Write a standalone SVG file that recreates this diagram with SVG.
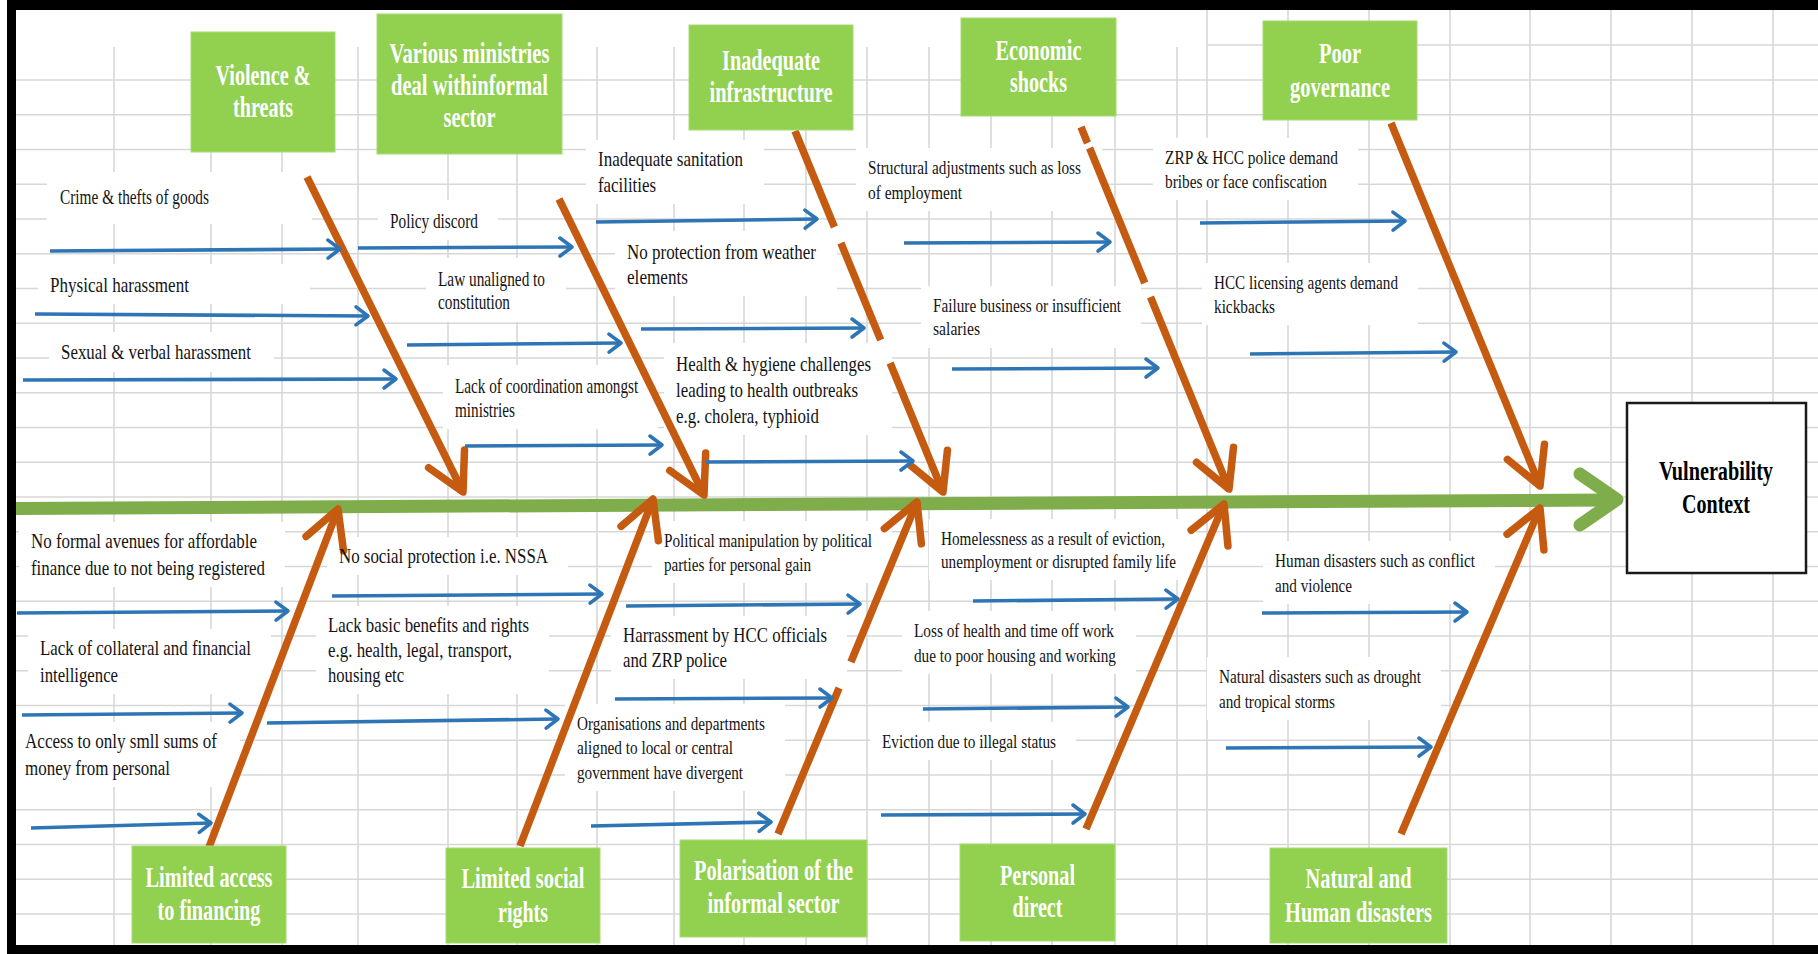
<svg xmlns="http://www.w3.org/2000/svg" width="1818" height="954" viewBox="0 0 1818 954">
  <defs>
    <style>
      .grid { fill: none; stroke: #d7d7d7; stroke-width: 1.6; }
      .tbox { fill: #ffffff; stroke: none; }
      .cause { fill: #92d050; stroke: #a6dc72; stroke-width: 1; }
      .lbl { font-family: "Liberation Serif", "Times New Roman", serif; font-weight: bold; font-size: 29px; fill: #ffffff; text-anchor: middle; }
      .t21 { font-family: "Liberation Serif", "Times New Roman", serif; font-size: 21px; fill: #141414; }
      .t20 { font-family: "Liberation Serif", "Times New Roman", serif; font-size: 20px; fill: #141414; }
      .t19 { font-family: "Liberation Serif", "Times New Roman", serif; font-size: 19px; fill: #141414; }
      .vc { font-family: "Liberation Serif", "Times New Roman", serif; font-weight: bold; font-size: 27px; fill: #000000; text-anchor: middle; }
      .bone { fill: none; stroke: #c55a11; stroke-width: 7.5; marker-end: url(#headOrange); }
      .sub { fill: none; stroke: #2e75b6; stroke-width: 3.6; marker-end: url(#headBlue); }
      .spine { fill: none; stroke: #80ad4c; stroke-width: 13; }
    </style>
    <marker id="headOrange" markerUnits="userSpaceOnUse" viewBox="-50 -30 60 60" markerWidth="60" markerHeight="60" refX="0" refY="0" orient="auto" overflow="visible">
      <path d="M-37,-20 L0,0 L-37,20" fill="none" stroke="#c55a11" stroke-width="7.5" stroke-linecap="round" stroke-linejoin="round"/>
    </marker>
    <marker id="headBlue" markerUnits="userSpaceOnUse" viewBox="-20 -15 30 30" markerWidth="30" markerHeight="30" refX="0" refY="0" orient="auto" overflow="visible">
      <path d="M-12,-9 L0,0 L-12,9" fill="none" stroke="#2e75b6" stroke-width="3.6" stroke-linecap="round" stroke-linejoin="round"/>
    </marker>
  </defs>

  <!-- sheet background and cell grid -->
  <rect x="0" y="0" width="1818" height="954" fill="#ffffff"/>
  <g id="grid">
    <path class="grid" d="M16,80H1818 M16,114.8H1818 M16,149.5H1818 M16,184.3H1818 M16,219H1818 M16,253.8H1818 M16,288.5H1818 M16,323.3H1818 M16,358H1818 M16,392.8H1818 M16,427.5H1818 M16,462.3H1818 M16,497H1818 M16,531.8H1818 M16,566.5H1818 M16,601.3H1818 M16,636H1818 M16,670.8H1818 M16,705.5H1818 M16,740.3H1818 M16,775H1818 M16,809.8H1818 M16,844.5H1818 M16,879.3H1818 M16,914H1818 M1207,45H1818"/>
    <path class="grid" d="M114,47V945 M211,47V945 M282,47V945 M358,47V945 M448,47V945 M517,47V945 M597,47V945 M674,47V945 M744,47V945 M806,47V945 M867,47V945 M929,47V945 M991,47V945 M1052,47V945 M1115,47V945 M1177,47V945 M1207,10V945 M1288,10V945 M1369,10V945 M1450,10V945 M1530,10V945 M1611,10V945 M1692,10V945 M1773,10V945"/>
  </g>

  <!-- white backgrounds of the sub-cause text boxes -->
  <g id="textbox-backgrounds">
    <rect class="tbox" x="47" y="172" width="265" height="52"/>
    <rect class="tbox" x="38" y="264" width="272" height="40"/>
    <rect class="tbox" x="49" y="332" width="225" height="40"/>
    <rect class="tbox" x="378" y="200" width="120" height="40"/>
    <rect class="tbox" x="426" y="258" width="140" height="64"/>
    <rect class="tbox" x="443" y="365" width="215" height="64"/>
    <rect class="tbox" x="586" y="140" width="178" height="64"/>
    <rect class="tbox" x="615" y="231" width="222" height="65"/>
    <rect class="tbox" x="664" y="343" width="228" height="92"/>
    <rect class="tbox" x="856" y="148" width="246" height="63"/>
    <rect class="tbox" x="921" y="286" width="220" height="62"/>
    <rect class="tbox" x="1153" y="138" width="205" height="62"/>
    <rect class="tbox" x="1202" y="263" width="216" height="62"/>
    <rect class="tbox" x="19" y="522" width="266" height="65"/>
    <rect class="tbox" x="28" y="629" width="243" height="65"/>
    <rect class="tbox" x="16" y="722" width="224" height="65"/>
    <rect class="tbox" x="327" y="537" width="241" height="38"/>
    <rect class="tbox" x="316" y="606" width="233" height="88"/>
    <rect class="tbox" x="652" y="521" width="240" height="62"/>
    <rect class="tbox" x="611" y="616" width="236" height="63"/>
    <rect class="tbox" x="565" y="704" width="220" height="87"/>
    <rect class="tbox" x="929" y="519" width="267" height="61"/>
    <rect class="tbox" x="902" y="611" width="234" height="63"/>
    <rect class="tbox" x="870" y="722" width="206" height="38"/>
    <rect class="tbox" x="1263" y="541" width="232" height="63"/>
    <rect class="tbox" x="1207" y="657" width="234" height="63"/>
  </g>

  <!-- spine, bones and sub-cause arrows -->
  <g id="connectors">
    <path class="spine" d="M16,508.5 L1612,500"/>
    <path d="M1580,474 L1617,499.5 L1580,525" fill="none" stroke="#80ad4c" stroke-width="13" stroke-linecap="round" stroke-linejoin="round"/>

    <path class="bone" d="M307,177 L463,492"/>
    <path class="bone" d="M559,199 L704,495"/>
    <path class="bone" d="M795,131 L834.4,227 M840.9,243 L880.7,340 M890.1,363 L943,492"/>
    <path class="bone" d="M1081,127 L1087.5,143 M1089.6,148 L1144.8,283 M1150.5,297 L1229,489"/>
    <path class="bone" d="M1391,123 L1540,486"/>
    <path class="bone" d="M206,855 L338,509"/>
    <path class="bone" d="M520,846 L653,499"/>
    <path class="bone" d="M778,834 L839.1,688 M850.9,662 L917,502"/>
    <path class="bone" d="M1086,829 L1224,504"/>
    <path class="bone" d="M1401,834 L1540,508"/>

    <path class="sub" d="M50,251 L340,249"/>
    <path class="sub" d="M35,314 L368,316"/>
    <path class="sub" d="M23,380 L396,379"/>
    <path class="sub" d="M358,248 L572,247"/>
    <path class="sub" d="M407,345 L621,343"/>
    <path class="sub" d="M465,446 L662,445"/>
    <path class="sub" d="M596,222 L817,219"/>
    <path class="sub" d="M641,329 L864,328"/>
    <path class="sub" d="M706,462 L913,461"/>
    <path class="sub" d="M904,243 L1110,242"/>
    <path class="sub" d="M952,369 L1158,368"/>
    <path class="sub" d="M1200,223 L1405,221"/>
    <path class="sub" d="M1250,354 L1456,352"/>
    <path class="sub" d="M17,613 L288,611"/>
    <path class="sub" d="M22,715 L242,713"/>
    <path class="sub" d="M31,828 L211,823"/>
    <path class="sub" d="M332,596 L602,594"/>
    <path class="sub" d="M267,723 L558,719"/>
    <path class="sub" d="M626,606 L860,604"/>
    <path class="sub" d="M615,699 L832,698"/>
    <path class="sub" d="M591,826 L771,822"/>
    <path class="sub" d="M973,601 L1178,599"/>
    <path class="sub" d="M923,709 L1128,707"/>
    <path class="sub" d="M881,815 L1085,814"/>
    <path class="sub" d="M1262,613 L1467,612"/>
    <path class="sub" d="M1226,748 L1431,747"/>
  </g>

  <!-- main cause boxes -->
  <g id="cause-violence">
    <rect class="cause" x="191" y="32" width="144" height="120"/>
    <text class="lbl" x="263" y="85" textLength="95" lengthAdjust="spacingAndGlyphs">Violence &amp;</text>
    <text class="lbl" x="263" y="117" textLength="60" lengthAdjust="spacingAndGlyphs">threats</text>
  </g>
  <g id="cause-ministries">
    <rect class="cause" x="377" y="14" width="185" height="140"/>
    <text class="lbl" x="469.5" y="63" textLength="160" lengthAdjust="spacingAndGlyphs">Various ministries</text>
    <text class="lbl" x="469.5" y="95" textLength="157" lengthAdjust="spacingAndGlyphs">deal withinformal</text>
    <text class="lbl" x="469.5" y="127" textLength="52" lengthAdjust="spacingAndGlyphs">sector</text>
  </g>
  <g id="cause-infrastructure">
    <rect class="cause" x="689" y="25" width="164" height="105"/>
    <text class="lbl" x="771" y="70" textLength="98" lengthAdjust="spacingAndGlyphs">Inadequate</text>
    <text class="lbl" x="771" y="102" textLength="123" lengthAdjust="spacingAndGlyphs">infrastructure</text>
  </g>
  <g id="cause-economic">
    <rect class="cause" x="961" y="18" width="155" height="98"/>
    <text class="lbl" x="1038.5" y="60" textLength="86" lengthAdjust="spacingAndGlyphs">Economic</text>
    <text class="lbl" x="1038.5" y="92" textLength="57" lengthAdjust="spacingAndGlyphs">shocks</text>
  </g>
  <g id="cause-governance">
    <rect class="cause" x="1263" y="21" width="154" height="99"/>
    <text class="lbl" x="1340" y="63" textLength="42" lengthAdjust="spacingAndGlyphs">Poor</text>
    <text class="lbl" x="1340" y="97" textLength="100" lengthAdjust="spacingAndGlyphs">governance</text>
  </g>
  <g id="cause-financing">
    <rect class="cause" x="132" y="846" width="154" height="97"/>
    <text class="lbl" x="209" y="887" textLength="127" lengthAdjust="spacingAndGlyphs">Limited access</text>
    <text class="lbl" x="209" y="920" textLength="103" lengthAdjust="spacingAndGlyphs">to financing</text>
  </g>
  <g id="cause-social-rights">
    <rect class="cause" x="446" y="848" width="154" height="95"/>
    <text class="lbl" x="523" y="888" textLength="123" lengthAdjust="spacingAndGlyphs">Limited social</text>
    <text class="lbl" x="523" y="922" textLength="50" lengthAdjust="spacingAndGlyphs">rights</text>
  </g>
  <g id="cause-polarisation">
    <rect class="cause" x="680" y="840" width="187" height="97"/>
    <text class="lbl" x="773.5" y="880" textLength="159" lengthAdjust="spacingAndGlyphs">Polarisation of the</text>
    <text class="lbl" x="773.5" y="913" textLength="132" lengthAdjust="spacingAndGlyphs">informal sector</text>
  </g>
  <g id="cause-personal">
    <rect class="cause" x="960" y="844" width="155" height="97"/>
    <text class="lbl" x="1037.5" y="885" textLength="75" lengthAdjust="spacingAndGlyphs">Personal</text>
    <text class="lbl" x="1037.5" y="917" textLength="50" lengthAdjust="spacingAndGlyphs">direct</text>
  </g>
  <g id="cause-disasters">
    <rect class="cause" x="1270" y="848" width="177" height="95"/>
    <text class="lbl" x="1358.5" y="888" textLength="106" lengthAdjust="spacingAndGlyphs">Natural and</text>
    <text class="lbl" x="1358.5" y="922" textLength="147" lengthAdjust="spacingAndGlyphs">Human disasters</text>
  </g>

  <!-- effect box -->
  <g id="effect">
    <rect x="1627" y="403" width="179" height="170" fill="#ffffff" stroke="#1a1a1a" stroke-width="2.5"/>
    <text class="vc" x="1716" y="480" textLength="114" lengthAdjust="spacingAndGlyphs">Vulnerability</text>
    <text class="vc" x="1716" y="513" textLength="68" lengthAdjust="spacingAndGlyphs">Context</text>
  </g>

  <!-- sub-cause labels -->
  <g id="sub-crime"><text class="t21" x="60" y="204" textLength="149" lengthAdjust="spacingAndGlyphs">Crime &amp; thefts of goods</text></g>
  <g id="sub-physical"><text class="t21" x="50" y="292" textLength="139" lengthAdjust="spacingAndGlyphs">Physical harassment</text></g>
  <g id="sub-sexual"><text class="t21" x="61" y="359" textLength="190" lengthAdjust="spacingAndGlyphs">Sexual &amp; verbal harassment</text></g>
  <g id="sub-policy"><text class="t21" x="390" y="228" textLength="88" lengthAdjust="spacingAndGlyphs">Policy discord</text></g>
  <g id="sub-law">
    <text class="t21" x="438" y="286" textLength="107" lengthAdjust="spacingAndGlyphs">Law unaligned to</text>
    <text class="t21" x="438" y="309" textLength="72" lengthAdjust="spacingAndGlyphs">constitution</text>
  </g>
  <g id="sub-coordination">
    <text class="t21" transform="translate(455,393) scale(0.71,1)" x="0" y="0" textLength="258" lengthAdjust="spacingAndGlyphs">Lack of coordination amongst</text>
    <text class="t21" x="455" y="417" textLength="60" lengthAdjust="spacingAndGlyphs">ministries</text>
  </g>
  <g id="sub-sanitation">
    <text class="t21" x="598" y="166" textLength="145" lengthAdjust="spacingAndGlyphs">Inadequate sanitation</text>
    <text class="t21" x="598" y="192" textLength="58" lengthAdjust="spacingAndGlyphs">facilities</text>
  </g>
  <g id="sub-weather">
    <text class="t21" x="627" y="259" textLength="189" lengthAdjust="spacingAndGlyphs">No protection from weather</text>
    <text class="t21" x="627" y="284" textLength="61" lengthAdjust="spacingAndGlyphs">elements</text>
  </g>
  <g id="sub-health">
    <text class="t21" x="676" y="371" textLength="195" lengthAdjust="spacingAndGlyphs">Health &amp; hygiene challenges</text>
    <text class="t21" x="676" y="397" textLength="182" lengthAdjust="spacingAndGlyphs">leading to health outbreaks</text>
    <text class="t21" x="676" y="423" textLength="143" lengthAdjust="spacingAndGlyphs">e.g. cholera, typhioid</text>
  </g>
  <g id="sub-structural">
    <text class="t19" x="868" y="174" textLength="213" lengthAdjust="spacingAndGlyphs">Structural adjustments such as loss</text>
    <text class="t19" x="868" y="199" textLength="94" lengthAdjust="spacingAndGlyphs">of employment</text>
  </g>
  <g id="sub-failure">
    <text class="t19" x="933" y="312" textLength="188" lengthAdjust="spacingAndGlyphs">Failure business or insufficient</text>
    <text class="t19" x="933" y="335" textLength="47" lengthAdjust="spacingAndGlyphs">salaries</text>
  </g>
  <g id="sub-bribes">
    <text class="t19" x="1165" y="164" textLength="173" lengthAdjust="spacingAndGlyphs">ZRP &amp; HCC police demand</text>
    <text class="t19" x="1165" y="188" textLength="162" lengthAdjust="spacingAndGlyphs">bribes or face confiscation</text>
  </g>
  <g id="sub-kickbacks">
    <text class="t19" x="1214" y="289" textLength="184" lengthAdjust="spacingAndGlyphs">HCC licensing agents demand</text>
    <text class="t19" x="1214" y="313" textLength="61" lengthAdjust="spacingAndGlyphs">kickbacks</text>
  </g>
  <g id="sub-avenues">
    <text class="t21" x="31" y="548" textLength="226" lengthAdjust="spacingAndGlyphs">No formal avenues for affordable</text>
    <text class="t21" x="31" y="575" textLength="234" lengthAdjust="spacingAndGlyphs">finance due to not being registered</text>
  </g>
  <g id="sub-collateral">
    <text class="t21" x="40" y="655" textLength="211" lengthAdjust="spacingAndGlyphs">Lack of collateral and financial</text>
    <text class="t21" x="40" y="682" textLength="78" lengthAdjust="spacingAndGlyphs">intelligence</text>
  </g>
  <g id="sub-small-sums">
    <text class="t20" x="25" y="748" textLength="192" lengthAdjust="spacingAndGlyphs">Access to only smll sums of</text>
    <text class="t20" x="25" y="775" textLength="145" lengthAdjust="spacingAndGlyphs">money from personal</text>
  </g>
  <g id="sub-nssa"><text class="t21" x="339" y="563" textLength="209" lengthAdjust="spacingAndGlyphs">No social protection i.e. NSSA</text></g>
  <g id="sub-benefits">
    <text class="t21" x="328" y="632" textLength="201" lengthAdjust="spacingAndGlyphs">Lack basic benefits and rights</text>
    <text class="t21" x="328" y="657" textLength="184" lengthAdjust="spacingAndGlyphs">e.g. health, legal, transport,</text>
    <text class="t21" x="328" y="682" textLength="76" lengthAdjust="spacingAndGlyphs">housing etc</text>
  </g>
  <g id="sub-political">
    <text class="t19" x="664" y="547" textLength="208" lengthAdjust="spacingAndGlyphs">Political manipulation by political</text>
    <text class="t19" x="664" y="571" textLength="147" lengthAdjust="spacingAndGlyphs">parties for personal gain</text>
  </g>
  <g id="sub-harassment-hcc">
    <text class="t21" x="623" y="642" textLength="204" lengthAdjust="spacingAndGlyphs">Harrassment by HCC officials</text>
    <text class="t21" x="623" y="667" textLength="104" lengthAdjust="spacingAndGlyphs">and ZRP police</text>
  </g>
  <g id="sub-organisations">
    <text class="t19" x="577" y="730" textLength="188" lengthAdjust="spacingAndGlyphs">Organisations and departments</text>
    <text class="t19" x="577" y="754" textLength="156" lengthAdjust="spacingAndGlyphs">aligned to local or central</text>
    <text class="t19" x="577" y="779" textLength="166" lengthAdjust="spacingAndGlyphs">government have divergent</text>
  </g>
  <g id="sub-homelessness">
    <text class="t19" x="941" y="545" textLength="224" lengthAdjust="spacingAndGlyphs">Homelessness as a result of eviction,</text>
    <text class="t19" x="941" y="568" textLength="235" lengthAdjust="spacingAndGlyphs">unemployment or disrupted family life</text>
  </g>
  <g id="sub-loss-health">
    <text class="t19" x="914" y="637" textLength="200" lengthAdjust="spacingAndGlyphs">Loss of health and time off work</text>
    <text class="t19" x="914" y="662" textLength="202" lengthAdjust="spacingAndGlyphs">due to poor housing and working</text>
  </g>
  <g id="sub-eviction"><text class="t19" x="882" y="748" textLength="174" lengthAdjust="spacingAndGlyphs">Eviction due to illegal status</text></g>
  <g id="sub-human-disasters">
    <text class="t19" x="1275" y="567" textLength="200" lengthAdjust="spacingAndGlyphs">Human disasters such as conflict</text>
    <text class="t19" x="1275" y="592" textLength="77" lengthAdjust="spacingAndGlyphs">and violence</text>
  </g>
  <g id="sub-natural-disasters">
    <text class="t19" x="1219" y="683" textLength="202" lengthAdjust="spacingAndGlyphs">Natural disasters such as drought</text>
    <text class="t19" x="1219" y="708" textLength="116" lengthAdjust="spacingAndGlyphs">and tropical storms</text>
  </g>

  <!-- screenshot frame -->
  <g id="frame" fill="#000000">
    <rect x="7" y="0" width="9" height="954"/>
    <rect x="7" y="0" width="1811" height="10"/>
    <rect x="7" y="945" width="1811" height="9"/>
  </g>
</svg>
